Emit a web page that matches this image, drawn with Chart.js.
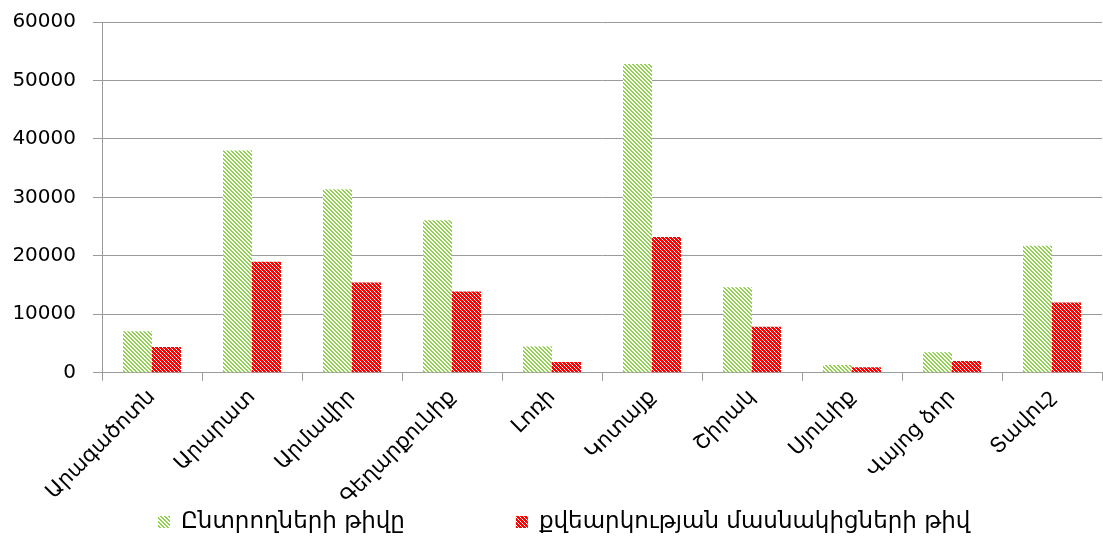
<!DOCTYPE html>
<html>
<head>
<meta charset="utf-8">
<script src="https://cdn.jsdelivr.net/npm/chart.js@4.4.1/dist/chart.umd.min.js"></script>
<style>
  html, body { margin: 0; padding: 0; background: #fff; }
  #wrap { width: 1103px; height: 538px; }
</style>
</head>
<body>
<div id="wrap"><canvas id="chart"></canvas></div>
<script>
// regions of Armenia
var regions = ['Արագածոտն', 'Արարատ', 'Արմավիր', 'Գեղարքունիք', 'Լոռի', 'Կոտայք', 'Շիրակ', 'Սյունիք', 'Վայոց ձոր', 'Տավուշ'];
var voters = [7100, 38000, 31400, 26100, 4500, 52800, 14600, 1300, 3500, 21700];
var participants = [4400, 19000, 15450, 13900, 1850, 23200, 7850, 950, 2000, 12000];
var seriesNames = ['Ընտրողների թիվը', 'քվեարկության մասնակիցների թիվ'];
var yMin = 0, yMax = 60000, yStep = 10000;

var FONT = '"DejaVu Sans", sans-serif';
var gridColor = '#9a9a9a';

// diagonal hatch fill, like the excel pattern fills
function hatch(color, size, on) {
    var c = document.createElement('canvas');
    c.width = size;
    c.height = size;
    var g = c.getContext('2d');
    g.fillStyle = '#fff';
    g.fillRect(0, 0, size, size);
    g.fillStyle = color;
    for (var y = 0; y < size; y++) {
        for (var x = 0; x < size; x++) {
            if (((x - y) % size + size) % size < on) g.fillRect(x, y, 1, 1);
        }
    }
    return g.createPattern(c, 'repeat');
}

var greenFill = hatch('#92d050', 4, 2);
var redFill = hatch('#ff0000', 4, 3);

// legend drawn under the labels, spaced out like the original
var bottomLegend = {
    id: 'bottomLegend',
    afterDraw: function (chart) {
        var ctx = chart.ctx;
        var x = chart.chartArea.left + 56;
        var y = chart.height - 16;
        ctx.save();
        ctx.font = '23px ' + FONT;
        ctx.textBaseline = 'middle';
        ctx.textAlign = 'left';
        chart.data.datasets.forEach(function (ds) {
            ctx.fillStyle = ds.backgroundColor;
            ctx.fillRect(x, y - 6, 12, 12);
            ctx.fillStyle = '#000';
            ctx.fillText(ds.label, x + 23, y);
            x += 23 + ctx.measureText(ds.label).width + 111;
        });
        ctx.restore();
    }
};

var config = {
    type: 'bar',
    data: {
        labels: regions,
        datasets: [{
            label: seriesNames[0],
            data: voters,
            backgroundColor: greenFill,
            borderWidth: 0,
            categoryPercentage: 0.58,
            barPercentage: 1.0
        }, {
            label: seriesNames[1],
            data: participants,
            backgroundColor: redFill,
            borderWidth: 0,
            categoryPercentage: 0.58,
            barPercentage: 1.0
        }]
    },
    options: {
        responsive: true,
        maintainAspectRatio: false,
        animation: false,
        layout: {
            padding: { top: 22, right: 1, bottom: 24, left: 8 }
        },
        plugins: {
            legend: { display: false },
            tooltip: { enabled: false }
        },
        scales: {
            x: {
                grid: {
                    drawOnChartArea: false,
                    drawTicks: true,
                    tickLength: 8,
                    color: gridColor
                },
                border: { color: gridColor },
                ticks: {
                    color: '#000',
                    minRotation: 45,
                    maxRotation: 45,
                    autoSkip: false,
                    padding: 4,
                    font: { family: FONT, size: 21 }
                },
                // rotated first label fits in the margin anyway
                afterFit: function (scale) {
                    scale.paddingLeft = 0;
                }
            },
            y: {
                min: yMin,
                max: yMax,
                grid: {
                    color: gridColor,
                    tickLength: 9
                },
                border: { color: gridColor },
                ticks: {
                    stepSize: yStep,
                    color: '#000',
                    padding: 17,
                    font: { family: FONT, size: 20 },
                    callback: function (v) { return String(v); }
                },
                afterFit: function (scale) {
                    scale.paddingTop = 0;
                    scale.width = 94;
                }
            }
        }
    },
    plugins: [bottomLegend]
};

window.onload = function () {
    var ctx = document.getElementById('chart').getContext('2d');
    window.myBar = new Chart(ctx, config);
};
</script>
</body>
</html>
